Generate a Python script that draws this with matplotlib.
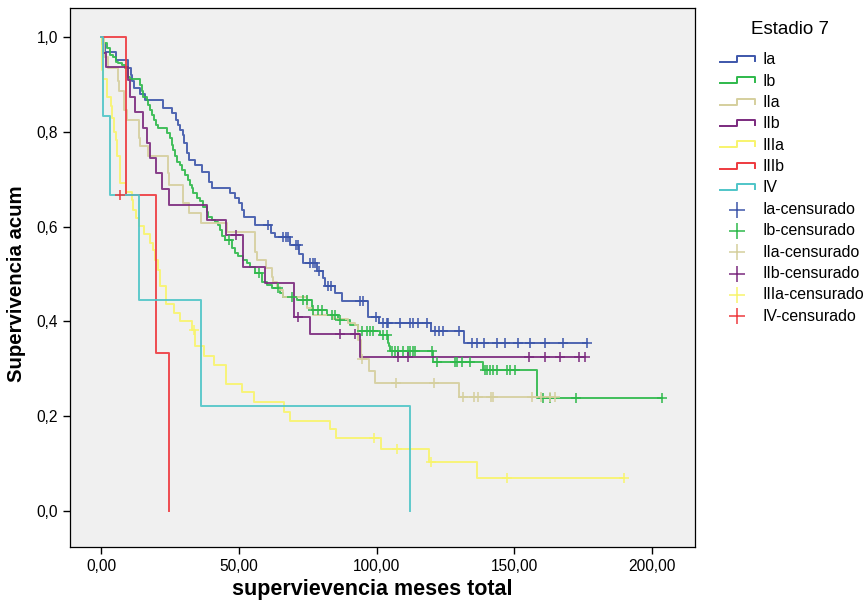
import matplotlib.pyplot as plt
import numpy as np

plt.rcParams['font.family'] = ['Liberation Sans', 'DejaVu Sans']

# Kaplan-Meier: tiempos de evento, supervivencia tras cada evento y tiempos censurados
ia_t = [0.5, 1.5, 5.3, 9.9, 10.8, 11.1, 12.1, 14.2, 16.0, 22.4, 25.7, 27.2, 28.1, 28.7,
        29.7, 30.2, 31.1, 32.1, 34.1, 36.6, 39.3, 40.2, 46.8, 48.7, 50.2, 51.1, 51.9,
        55.9, 61.6, 63.2, 68.6, 72.0, 73.2, 78.3, 80.7, 81.3, 84.9, 87.4, 96.8, 101.0,
        119.7, 131.8]
ia_s = [0.985, 0.969, 0.951, 0.934, 0.920, 0.906, 0.892, 0.880, 0.867, 0.850, 0.840,
        0.825, 0.814, 0.803, 0.793, 0.776, 0.755, 0.741, 0.730, 0.716, 0.695, 0.681,
        0.670, 0.660, 0.649, 0.635, 0.621, 0.603, 0.586, 0.577, 0.561, 0.542, 0.523,
        0.507, 0.491, 0.475, 0.459, 0.443, 0.410, 0.397, 0.380, 0.355]
ia_c = [60.7, 66.2, 67.2, 68.0, 70.8, 71.6, 75.9, 76.8, 77.7, 79.2, 82.5, 83.5, 94.0,
        95.2, 99.8, 102.4, 103.7, 104.2, 108.5, 112.2, 113.4, 115.1, 118.2, 121.2,
        122.7, 124.1, 130.1, 134.6, 136.4, 139.0, 143.6, 146.6, 151.5, 155.7, 161.2,
        167.8, 176.3]

ib_t = [0.25, 2.1, 3.3, 4.5, 5.3, 6.3, 7.5, 8.7, 9.9, 10.5, 14.2, 14.8, 15.4, 16.6,
        17.2, 17.8, 18.6, 19.3, 20.0, 20.8, 23.8, 25.0, 25.7, 26.2, 26.9, 27.5, 28.7,
        29.3, 30.5, 31.7, 32.3, 32.9, 33.5, 34.7, 35.9, 37.1, 38.4, 38.9, 40.2, 41.4,
        42.6, 43.2, 43.8, 45.0, 47.4, 48.6, 49.8, 51.7, 52.9, 54.1, 55.9, 58.3, 60.1,
        62.0, 65.0, 66.2, 71.0, 76.5, 81.9, 86.1, 90.4, 93.3, 101.3, 104.3, 104.6,
        104.9, 120.6, 138.8, 158.2]
ib_s = [0.987, 0.976, 0.962, 0.958, 0.948, 0.944, 0.941, 0.934, 0.916, 0.911, 0.899,
        0.885, 0.874, 0.867, 0.856, 0.846, 0.835, 0.825, 0.814, 0.807, 0.797, 0.786,
        0.772, 0.762, 0.748, 0.737, 0.730, 0.719, 0.709, 0.698, 0.688, 0.681, 0.670,
        0.660, 0.653, 0.642, 0.631, 0.621, 0.614, 0.610, 0.603, 0.593, 0.579, 0.572,
        0.554, 0.544, 0.537, 0.530, 0.523, 0.515, 0.501, 0.484, 0.477, 0.470, 0.459,
        0.452, 0.445, 0.423, 0.413, 0.403, 0.392, 0.380, 0.371, 0.355, 0.347, 0.338,
        0.315, 0.297, 0.238]
ib_c = [46.6, 57.5, 64.2, 69.2, 73.4, 74.7, 77.1, 78.9, 80.1, 83.7, 84.9, 86.8, 94.6,
        96.4, 97.6, 98.8, 102.5, 103.7, 105.5, 106.7, 107.9, 109.7, 111.5, 112.2,
        113.4, 114.0, 120.0, 121.9, 128.5, 129.1, 130.9, 133.9, 139.4, 140.0, 141.2,
        142.4, 143.6, 147.3, 148.5, 150.3, 160.3, 163.0, 172.4, 203.5]

iia_t = [1.1, 2.6, 6.1, 6.5, 8.5, 9.3, 13.8, 14.3, 17.2, 24.4, 24.6, 29.9, 32.0, 36.2,
         45.6, 55.9, 56.5, 59.9, 62.0, 62.5, 63.8, 65.0, 66.2, 74.7, 77.1, 84.3, 89.8,
         92.2, 93.4, 94.2, 97.4, 99.5, 129.9]
iia_s = [0.958, 0.934, 0.906, 0.885, 0.846, 0.825, 0.786, 0.769, 0.748, 0.712, 0.688,
         0.649, 0.628, 0.608, 0.589, 0.547, 0.530, 0.512, 0.494, 0.484, 0.473, 0.466,
         0.452, 0.428, 0.413, 0.406, 0.396, 0.392, 0.360, 0.320, 0.296, 0.271, 0.241]
iia_c = [94.6, 107.1, 121.0, 131.3, 135.4, 136.7, 141.6, 142.2, 156.3, 159.6, 163.0,
         164.8]

iib_t = [0.7, 1.8, 9.9, 10.5, 12.3, 15.4, 16.6, 17.8, 20.1, 22.0, 24.8, 38.4, 45.5,
         51.7, 59.5, 70.2, 75.9, 94.0]
iib_s = [0.967, 0.937, 0.909, 0.874, 0.842, 0.807, 0.776, 0.744, 0.712, 0.679, 0.646,
         0.614, 0.582, 0.514, 0.480, 0.410, 0.373, 0.325]
iib_c = [49.1, 71.6, 86.8, 92.2, 107.9, 111.5, 155.5, 161.2, 166.6, 173.6, 175.7]

iiia_t = [0.25, 0.6, 2.1, 3.6, 4.1, 4.8, 5.3, 5.7, 6.9, 9.1, 11.1, 11.7, 12.7, 13.8,
          15.6, 17.8, 19.0, 19.6, 20.6, 21.4, 23.5, 26.5, 28.7, 32.9, 34.1, 37.4, 41.0,
          45.4, 51.3, 55.6, 66.4, 68.6, 83.1, 85.3, 101.6, 119.1, 136.4]
iiia_s = [0.930, 0.911, 0.874, 0.854, 0.829, 0.800, 0.783, 0.749, 0.692, 0.673, 0.656,
          0.635, 0.618, 0.601, 0.584, 0.565, 0.551, 0.530, 0.508, 0.475, 0.437, 0.418,
          0.401, 0.382, 0.347, 0.326, 0.307, 0.268, 0.250, 0.230, 0.209, 0.190, 0.172,
          0.153, 0.131, 0.104, 0.069]
iiia_c = [33.8, 99.1, 107.3, 119.8, 147.5, 190.0]

iiib_t = [9.1, 19.8, 24.7]
iiib_s = [0.667, 0.333, 0.0]
iiib_c = []

iv_t = [0.8, 3.3, 13.9, 36.2, 112.2]
iv_s = [0.833, 0.667, 0.444, 0.222, 0.0]
iv_c = [6.9]

grupos = ['Ia', 'Ib', 'IIa', 'IIb', 'IIIa', 'IIIb', 'IV']
tiempos = [ia_t, ib_t, iia_t, iib_t, iiia_t, iiib_t, iv_t]
superv = [ia_s, ib_s, iia_s, iib_s, iiia_s, iiib_s, iv_s]
censur = [ia_c, ib_c, iia_c, iib_c, iiia_c, iiib_c, iv_c]
colores = ['#3d56aa', '#2eb94b', '#d5cf9d', '#7b2a7e', '#f8f46c', '#ee3a3f', '#4fc5c8']

# SPSS asigna los colores de los censurados en orden, saltando los grupos sin censura
grupos_cens = [g for g, c in zip(grupos, censur) if c]
colores_cens = colores[:len(grupos_cens)]


def curva(t, s, c):
    x = [0.0] + list(t)
    y = [1.0] + list(s)
    fin = max(list(t) + list(c))
    if fin > x[-1]:
        x.append(fin)
        y.append(y[-1])
    t = np.asarray(t)
    s = np.asarray(s)
    cy = [s[np.searchsorted(t, ci, side='right') - 1] if ci >= t[0] else 1.0 for ci in c]
    return x, y, cy


fig = plt.figure(figsize=(8.66, 6.01), dpi=100)
ax = fig.add_axes([70 / 866, 54 / 601, 625 / 866, 539 / 601])
ax.set_facecolor('#f0f0f0')

for t, s, c, col in zip(tiempos, superv, censur, colores):
    x, y, cy = curva(t, s, c)
    ax.step(x, y, where='post', color=col, lw=1.4, alpha=0.9, zorder=2)

k = 0
for t, s, c in zip(tiempos, superv, censur):
    if not c:
        continue
    x, y, cy = curva(t, s, c)
    ax.plot(c, cy, ls='none', marker='+', ms=7, mew=1.1, color=colores_cens[k], zorder=3)
    k += 1

ax.set_xlim(-11.25, 215.6)
ax.set_ylim(-0.076, 1.061)
xt = [0, 50, 100, 150, 200]
yt = [0.0, 0.2, 0.4, 0.6, 0.8, 1.0]
ax.set_xticks(xt)
ax.set_xticklabels([f'{v:.2f}'.replace('.', ',') for v in xt])
ax.set_yticks(yt)
ax.set_yticklabels([f'{v:.1f}'.replace('.', ',') for v in yt])
ax.tick_params(direction='out', length=5, width=1, labelsize=11.2, colors='black')
for sp in ax.spines.values():
    sp.set_color('black')
    sp.set_linewidth(0.9)
ax.set_xlabel('supervievencia meses total', fontsize=15.5, fontweight='bold', labelpad=4)
ax.set_ylabel('Supervivencia acum', fontsize=14.7, fontweight='bold', labelpad=8)
ax.xaxis.label.set_x(0.484)
ax.yaxis.label.set_y(0.489)

# leyenda dibujada a mano en coordenadas de pixel
leg = fig.add_axes([0, 0, 1, 1])
leg.set_xlim(0, 866)
leg.set_ylim(601, 0)
leg.axis('off')
leg.text(790, 30, 'Estadio 7', fontsize=13.5, ha='center', va='center')
y0 = 60
for i, (g, col) in enumerate(zip(grupos, colores)):
    yy = y0 + i * 21.3
    leg.plot([720, 737, 737, 755, 755], [yy + 2, yy + 2, yy - 4, yy - 4, yy + 1],
             color=col, lw=1.4)
    leg.text(762, yy, g, fontsize=11.4, va='center')
for j, (g, col) in enumerate(zip(grupos_cens, colores_cens)):
    yy = y0 + (len(grupos) + j) * 21.3 + 0.5
    leg.plot([737], [yy], marker='+', ms=11, mew=1.1, color=col)
    leg.text(762, yy, g + '-censurado', fontsize=11.4, va='center')

fig.savefig('out.png', dpi=100)
